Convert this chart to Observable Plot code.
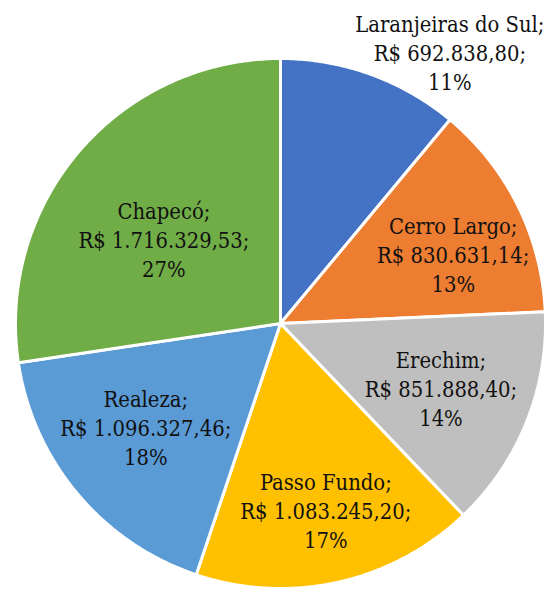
<!DOCTYPE html>
<html>
<head>
<meta charset="utf-8">
<script src="https://cdn.jsdelivr.net/npm/d3@7"></script>
<script src="https://cdn.jsdelivr.net/npm/@observablehq/plot@0.6"></script>
<style>
  html, body { margin: 0; padding: 0; background: #fff; }
</style>
</head>
<body>
<div id="chart"></div>
<script>
const names = ["Laranjeiras do Sul", "Cerro Largo", "Erechim", "Passo Fundo", "Realeza", "Chapecó"];
const valueLabels = ["R$ 692.838,80", "R$ 830.631,14", "R$ 851.888,40", "R$ 1.083.245,20", "R$ 1.096.327,46", "R$ 1.716.329,53"];
const values = [692838.80, 830631.14, 851888.40, 1083245.20, 1096327.46, 1716329.53];
const percentLabels = ["11%", "13%", "14%", "17%", "18%", "27%"];
const colors = ["#4472C4", "#ED7D31", "#BFBFBF", "#FFC000", "#5B9BD5", "#70AD47"];

// label placement styling (radius as fraction of pie radius, angle nudge in degrees)
const labelRadius = [1.203, 0.70, 0.655, 0.73, 0.645, 0.54];
const labelAngleNudge = [12.2, 5, 0.5, -1, 2, -5.3];

const W = 546, H = 590;
const R = 265;
const cx = 280, cy = 323;

const pie = d3.pie().sort(null).value(d => d)(values);
const points = [];
pie.forEach((p, i) => {
  points.push({name: names[i], x: 0, y: 0});
  const steps = Math.max(8, Math.ceil((p.endAngle - p.startAngle) / 0.01));
  for (let k = 0; k <= steps; k++) {
    const a = p.startAngle + (p.endAngle - p.startAngle) * k / steps;
    points.push({name: names[i], x: R * Math.sin(a), y: R * Math.cos(a)});
  }
});

const labels = pie.map((p, i) => {
  const a = (p.startAngle + p.endAngle) / 2 + labelAngleNudge[i] * Math.PI / 180;
  const r = R * labelRadius[i];
  return {
    x: r * Math.sin(a),
    y: r * Math.cos(a),
    text: `${names[i]};\n${valueLabels[i]};\n${percentLabels[i]}`
  };
});

const chart = Plot.plot({
  width: W,
  height: H,
  margin: 0,
  x: {domain: [-cx, W - cx], axis: null},
  y: {domain: [-(H - cy), cy], axis: null},
  color: {domain: names, range: colors},
  style: {background: "#fff"},
  marks: [
    Plot.line(points, {x: "x", y: "y", z: "name", fill: "name", stroke: "#fff", strokeWidth: 3, curve: "linear-closed", strokeLinejoin: "miter"}),
    Plot.text(labels, {x: "x", y: "y", dy: -2, text: "text", fontSize: 21.8, lineHeight: 1.33, fill: "#111", fontFamily: "'DejaVu Serif Condensed', 'DejaVu Serif', serif", fontStretch: "condensed", textAnchor: "middle", lineAnchor: "middle"})
  ]
});
document.getElementById("chart").appendChild(chart);
</script>
</body>
</html>
